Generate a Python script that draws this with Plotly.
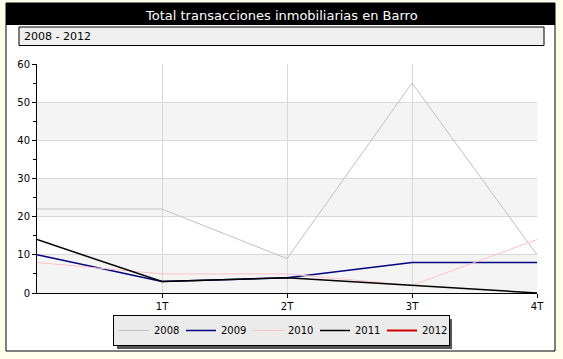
import plotly.graph_objects as go

W, H = 563, 359
L, R, T, B = 37, 537, 64, 293  # plot area in pixels

quarters = [0, 1, 2, 3, 4]
tick_vals = [1, 2, 3, 4]
tick_text = ["1T", "2T", "3T", "4T"]

series_names = ["2008", "2009", "2010", "2011", "2012"]
s2008 = [22, 22, 9, 55, 10]
s2009 = [10, 3, 4, 8, 8]
s2010 = [8, 5, 5, 2, 14]
s2011 = [14, 3, 4, 2, 0]
s2012 = [None, None, None, None, None]

colors = ["#C0C0C0", "#000080", "#FFC0CB", "#000000", "#CC0000"]
widths = [1, 1.5, 1, 1.5, 2]

title_text = "Total transacciones inmobiliarias en Barro"
subtitle_text = "2008 - 2012"

FONT = "DejaVu Sans"

def px(x):
    return (x - L) / (R - L)

def py(y):
    return (B - y) / (B - T)

fig = go.Figure()
for name, vals, c, w in zip(series_names, [s2008, s2009, s2010, s2011, s2012], colors, widths):
    fig.add_trace(go.Scatter(x=quarters, y=vals, mode="lines", name=name,
                             line=dict(color=c, width=w), showlegend=True))

LEG_X0, LEG_Y0, LEG_W, LEG_H = 113, 315, 335, 30

shapes = []
# white panel with border
shapes.append(dict(type="rect", xref="paper", yref="paper", x0=px(6), x1=px(555), y0=py(3), y1=py(351),
                   fillcolor="white", line=dict(color="black", width=1), layer="below"))
# black title bar
shapes.append(dict(type="rect", xref="paper", yref="paper", x0=px(6), x1=px(555), y0=py(3), y1=py(25),
                   fillcolor="black", line=dict(width=0), layer="below"))
# subtitle box
shapes.append(dict(type="rect", xref="paper", yref="paper", x0=px(19), x1=px(544), y0=py(27), y1=py(45.5),
                   fillcolor="#F0F0F0", line=dict(color="black", width=1), layer="below"))
# alternating bands
for y0 in range(0, 60, 20):
    shapes.append(dict(type="rect", xref="paper", yref="y", x0=0, x1=1, y0=y0, y1=y0 + 10,
                       fillcolor="#F4F4F4", line=dict(width=0), layer="below"))
# legend shadow
shapes.append(dict(type="rect", xref="paper", yref="paper",
                   x0=px(LEG_X0 + 4), x1=px(LEG_X0 + LEG_W + 4),
                   y0=py(LEG_Y0 + 4), y1=py(LEG_Y0 + LEG_H + 4),
                   fillcolor="#555555", line=dict(width=0), layer="below"))

annotations = [
    dict(text=title_text, xref="paper", yref="paper", x=px(281), y=py(16), showarrow=False,
         font=dict(family=FONT, size=13, color="white"), xanchor="center", yanchor="middle"),
    dict(text=subtitle_text, xref="paper", yref="paper", x=px(22), y=py(36.5), showarrow=False,
         font=dict(family=FONT, size=11, color="black"), xanchor="left", yanchor="middle"),
]

fig.update_layout(
    width=W, height=H,
    margin=dict(l=L, r=W - R, t=T, b=H - B, autoexpand=False),
    paper_bgcolor="#FFFEEA",
    plot_bgcolor="rgba(0,0,0,0)",
    font=dict(family=FONT, size=10, color="black"),
    shapes=shapes,
    annotations=annotations,
    showlegend=True,
    legend=dict(orientation="h", xref="container", yref="container",
                x=LEG_X0 / W, y=1 - LEG_Y0 / H, xanchor="left", yanchor="top",
                bgcolor="#EBEBEB", bordercolor="black", borderwidth=1,
                font=dict(family=FONT, size=10), entrywidth=22, entrywidthmode="pixels",
                itemwidth=30, tracegroupgap=0),
)
fig.update_xaxes(range=[0, 4], tickvals=tick_vals, ticktext=tick_text, showgrid=True,
                 gridcolor="#D8D8D8", gridwidth=1, showline=True, linecolor="black", linewidth=1,
                 ticks="outside", ticklen=4, tickcolor="black", zeroline=False,
                 tickfont=dict(family=FONT, size=10))
fig.update_yaxes(range=[0, 60], dtick=10, showgrid=True, gridcolor="#D8D8D8", gridwidth=1,
                 showline=True, linecolor="black", linewidth=1, ticks="outside", ticklen=4,
                 tickcolor="black", zeroline=False, tickfont=dict(family=FONT, size=10),
                 minor=dict(dtick=5, ticks="outside", ticklen=3, tickcolor="black", showgrid=False))

fig.write_html("out.html")
